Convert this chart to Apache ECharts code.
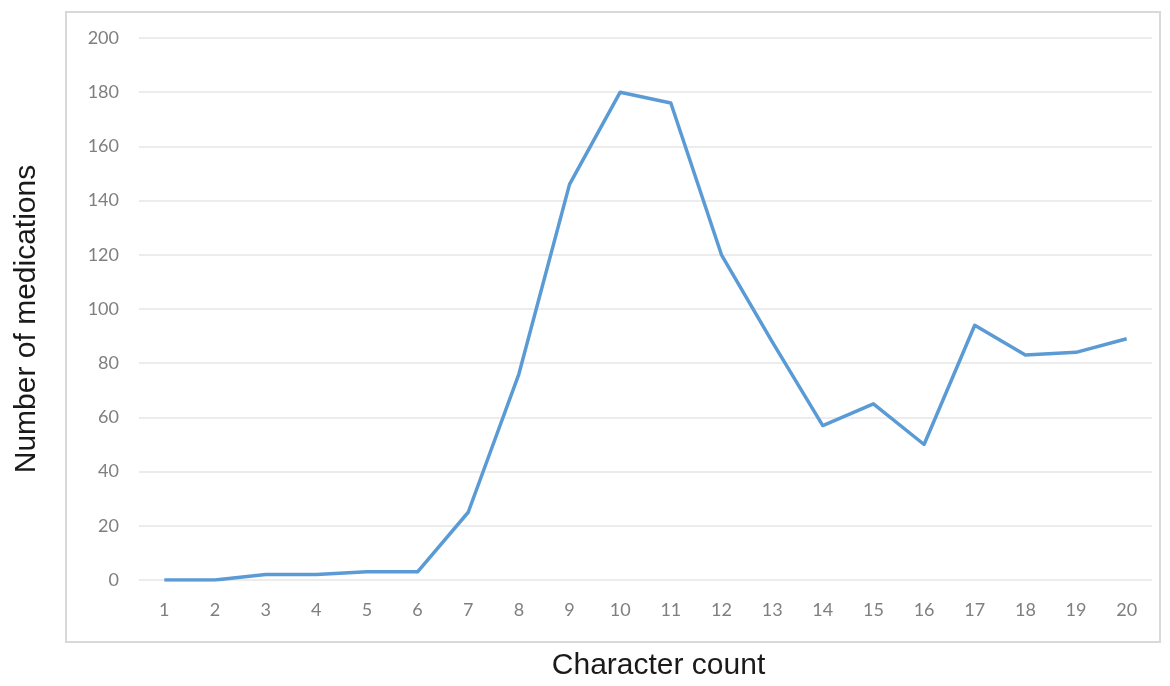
<!DOCTYPE html>
<html>
<head>
<meta charset="utf-8">
<script src="https://cdn.jsdelivr.net/npm/echarts@6/dist/echarts.min.js"></script>
<style>
  html, body { margin: 0; padding: 0; background: #fff; }
  #main { width: 1170px; height: 686px; }
</style>
</head>
<body>
<div id="main"></div>
<script>
let characterCount = ['1', '2', '3', '4', '5', '6', '7', '8', '9', '10',
    '11', '12', '13', '14', '15', '16', '17', '18', '19', '20'];
let medications = [0, 0, 2, 2, 3, 3, 25, 76, 146, 180,
    176, 120, 88, 57, 65, 50, 94, 83, 84, 89];
let yTicks = { min: 0, max: 200, interval: 20 };

let tickFont = { color: '#7f7f7f', fontSize: 18, fontFamily: 'Lato' };

let option = {
    animation: false,
    backgroundColor: '#fff',
    graphic: [
        {
            type: 'rect',
            shape: { x: 66, y: 12, width: 1094, height: 630 },
            style: { fill: 'none', stroke: '#d9d9d9', lineWidth: 2 },
            z: -1
        }
    ],
    grid: { left: 139, right: 18, top: 38, bottom: 104 },
    xAxis: {
        type: 'category',
        data: characterCount,
        boundaryGap: true,
        name: 'Character count',
        nameLocation: 'middle',
        nameGap: 71,
        nameTextStyle: { color: '#1a1a1a', fontSize: 30, fontFamily: 'Liberation Sans', padding: [0, 0, 0, 26] },
        axisLine: { show: false },
        axisTick: { show: false },
        axisLabel: Object.assign({ margin: 21 }, tickFont),
        splitLine: { show: false }
    },
    yAxis: {
        type: 'value',
        min: yTicks.min,
        max: yTicks.max,
        interval: yTicks.interval,
        name: 'Number of medications',
        nameLocation: 'middle',
        nameGap: 97,
        nameTextStyle: { color: '#1a1a1a', fontSize: 30, fontFamily: 'Liberation Sans', padding: [0, 20, 0, 0] },
        axisLine: { show: false },
        axisTick: { show: false },
        axisLabel: Object.assign({ margin: 20 }, tickFont),
        splitLine: { lineStyle: { color: '#e6e6e6', width: 1.5 } }
    },
    series: [
        {
            type: 'line',
            data: medications,
            showSymbol: false,
            lineStyle: { color: '#5b9bd5', width: 3.5, join: 'round' },
            itemStyle: { color: '#5b9bd5' }
        }
    ]
};

let chart = echarts.init(document.getElementById('main'));
chart.setOption(option);
</script>
</body>
</html>
